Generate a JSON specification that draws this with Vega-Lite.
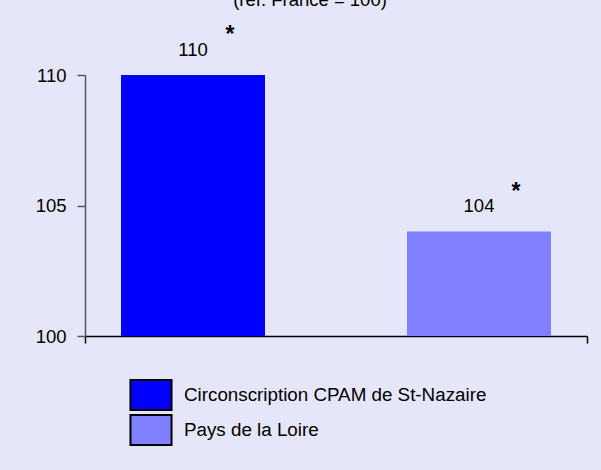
{
  "$schema": "https://vega.github.io/schema/vega-lite/v6.json",
  "autosize": "none",
  "width": 502,
  "height": 261,
  "padding": {"left": 85, "top": 75, "right": 14, "bottom": 134},
  "background": "#E6E6FA",
  "title": {
    "text": "(réf. France = 100)",
    "fontSize": 18.5,
    "fontWeight": "normal",
    "font": "Liberation Sans",
    "color": "black",
    "anchor": "middle",
    "offset": 15,
    "dx": -26
  },
  "config": {
    "font": "Liberation Sans",
    "view": {"stroke": null},
    "axis": {"grid": false}
  },
  "data": {
    "values": [
      {"region": "Circonscription CPAM de St-Nazaire", "value": 110, "label": "110", "star": "*"},
      {"region": "Pays de la Loire", "value": 104, "label": "104", "star": "*"}
    ]
  },
  "resolve": {"scale": {"x": "independent"}},
  "layer": [
    {
      "encoding": {
        "x": {
          "field": "region", "type": "nominal", "sort": null,
          "scale": {"paddingInner": 0.4965, "paddingOuter": 0.1259},
          "axis": {"labels": false, "ticks": false, "title": null, "domainColor": "black", "domainWidth": 1.5}
        },
        "y": {
          "field": "value", "type": "quantitative",
          "scale": {"domain": [100, 110], "zero": false},
          "axis": {"values": [100, 105, 110], "title": null, "tickSize": 8, "labelPadding": 11, "labelFontSize": 18.5, "labelColor": "black", "domainColor": "#555555", "tickColor": "#555555", "domainWidth": 1.5, "tickWidth": 1.5}
        }
      },
      "layer": [
        {
          "mark": {"type": "bar", "clip": true},
          "encoding": {
            "color": {
              "field": "region", "type": "nominal", "sort": null,
              "scale": {"domain": ["Circonscription CPAM de St-Nazaire", "Pays de la Loire"], "range": ["#0000FF", "#8080FF"]},
              "legend": {
                "orient": "none", "legendX": 50, "legendY": 304, "title": null,
                "symbolType": "M-1.37,-1H1.37V1H-1.37Z", "symbolSize": 900,
                "symbolStrokeColor": "black", "symbolStrokeWidth": 2, "symbolOpacity": 1,
                "labelFontSize": 18.8, "labelColor": "black", "labelOffset": 17, "rowPadding": -4, "labelLimit": 450
              }
            }
          }
        },
        {
          "mark": {"type": "text", "fontSize": 18.5, "baseline": "alphabetic", "dy": -19.5, "color": "black"},
          "encoding": {"text": {"field": "label"}}
        },
        {
          "mark": {"type": "text", "fontSize": 23, "fontWeight": "bold", "baseline": "alphabetic", "dy": -33, "dx": 37, "color": "black"},
          "encoding": {"text": {"field": "star"}}
        }
      ]
    },
    {
      "mark": {"type": "rule", "opacity": 0},
      "encoding": {
        "x": {
          "datum": 0, "type": "quantitative",
          "scale": {"domain": [0, 1]},
          "axis": {"orient": "bottom", "values": [0, 1], "labels": false, "domain": false, "tickSize": 7, "tickColor": "black", "tickWidth": 1.5, "title": null}
        }
      }
    }
  ]
}
